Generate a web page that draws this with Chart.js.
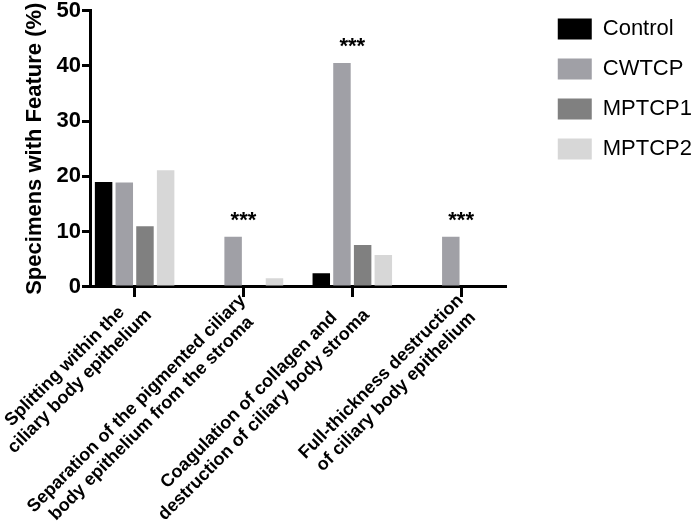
<!DOCTYPE html>
<html lang="en">
<head>
    <meta charset="UTF-8">
    <title>Specimens with Feature</title>
    <script src="https://cdn.jsdelivr.net/npm/chart.js@4.4.1/dist/chart.umd.min.js"></script>
    <style>
        body {
            margin: 0;
            background: #fff;
        }
        .wrap {
            width: 700px;
            height: 523px;
            position: relative;
        }
    </style>
</head>
<body>
    <div class="wrap">
        <canvas id="featureChart"></canvas>
    </div>

    <script>
        // data
        const categories = [
            ['Splitting within the', 'ciliary body epithelium'],
            ['Separation of the pigmented ciliary', 'body epithelium from the stroma'],
            ['Coagulation of collagen and', 'destruction of ciliary body stroma'],
            ['Full-thickness destruction', 'of ciliary body epithelium']
        ];
        const groupNames = ['Control', 'CWTCP', 'MPTCP1', 'MPTCP2'];
        const controlValues = [19.0, 0, 2.5, 0];
        const cwtcpValues = [18.9, 9.1, 40.5, 9.1];
        const mptcp1Values = [11.0, 0, 7.6, 0];
        const mptcp2Values = [21.1, 1.6, 5.8, 0];
        const significance = ['', '***', '***', '***'];
        const yTicks = [0, 10, 20, 30, 40, 50];

        const colors = ['#000000', '#a0a0a6', '#808080', '#d7d7d7'];
        const family = '"Liberation Sans", Arial, Helvetica, sans-serif';
        Chart.defaults.font.family = family;
        Chart.defaults.color = '#000';

        const toPoints = vals => vals.map((v, i) => ({ x: i, y: v }));
        const series = [controlValues, cwtcpValues, mptcp1Values, mptcp2Values];

        // *** markers above each group
        const starsPlugin = {
            id: 'stars',
            afterDatasetsDraw(chart) {
                const { ctx, scales: { x, y } } = chart;
                ctx.save();
                ctx.font = 'bold 22px ' + family;
                ctx.fillStyle = '#000';
                ctx.textAlign = 'center';
                ctx.textBaseline = 'alphabetic';
                significance.forEach((s, i) => {
                    if (!s) return;
                    const top = Math.max(...series.map(arr => arr[i]));
                    ctx.fillText(s, x.getPixelForValue(i), y.getPixelForValue(top) - 10);
                });
                ctx.restore();
            }
        };

        // two-line labels, rotated 45deg and centred like the original
        const xLabelPlugin = {
            id: 'xLabels',
            afterDraw(chart) {
                const { ctx, scales: { x } } = chart;
                ctx.save();
                ctx.font = 'bold 18px ' + family;
                ctx.fillStyle = '#000';
                ctx.textAlign = 'center';
                ctx.textBaseline = 'middle';
                categories.forEach((lines, i) => {
                    const w = Math.max(...lines.map(l => ctx.measureText(l).width));
                    ctx.save();
                    ctx.translate(x.getPixelForValue(i), x.top);
                    ctx.rotate(-Math.PI / 4);
                    lines.forEach((l, j) => ctx.fillText(l, -w / 2 - 8, 7 + j * 21));
                    ctx.restore();
                });
                ctx.restore();
            }
        };

        // push the legend away from the plot a bit
        const legendShift = {
            id: 'legendShift',
            afterLayout(chart) {
                const lg = chart.legend;
                if (!lg) return;
                const dx = chart.chartArea.right + 52 - (lg.left + lg.options.labels.padding);
                lg.left += dx;
                lg.right += dx;
            }
        };

        const ctx = document.getElementById('featureChart').getContext('2d');
        new Chart(ctx, {
            type: 'bar',
            data: {
                datasets: groupNames.map((name, k) => ({
                    label: name,
                    data: toPoints(series[k]),
                    backgroundColor: colors[k],
                    borderWidth: 0
                }))
            },
            options: {
                responsive: true,
                maintainAspectRatio: false,
                animation: false,
                categoryPercentage: 0.76,
                barPercentage: 0.845,
                layout: {
                    padding: { top: 0, right: 32, bottom: 226, left: 0 }
                },
                plugins: {
                    legend: {
                        position: 'right',
                        align: 'start',
                        labels: {
                            boxWidth: 34,
                            boxHeight: 21,
                            padding: 18,
                            color: '#000',
                            font: { size: 22 }
                        }
                    },
                    tooltip: { enabled: true }
                },
                scales: {
                    x: {
                        type: 'linear',
                        min: -0.41,
                        max: 3.41,
                        offset: false,
                        afterBuildTicks: s => { s.ticks = categories.map((c, i) => ({ value: i })); },
                        border: { color: '#000', width: 3 },
                        grid: {
                            offset: false,
                            drawOnChartArea: false,
                            drawTicks: true,
                            tickLength: 10,
                            color: '#000',
                            lineWidth: 3
                        },
                        ticks: { display: false }
                    },
                    y: {
                        min: 0,
                        max: 50,
                        afterBuildTicks: s => { s.ticks = yTicks.map(v => ({ value: v })); },
                        afterFit: s => { s.width = 90; },
                        border: { color: '#000', width: 3 },
                        grid: {
                            drawOnChartArea: false,
                            drawTicks: true,
                            tickLength: 8,
                            color: '#000',
                            lineWidth: 3
                        },
                        ticks: {
                            color: '#000',
                            padding: 1,
                            font: { size: 22, weight: 'bold', lineHeight: 0.86 }
                        },
                        title: {
                            display: true,
                            text: 'Specimens with Feature (%)',
                            color: '#000',
                            font: { size: 22, weight: 'bold' },
                            padding: { top: 22, bottom: 0 }
                        }
                    }
                }
            },
            plugins: [starsPlugin, xLabelPlugin, legendShift]
        });
    </script>
</body>
</html>
